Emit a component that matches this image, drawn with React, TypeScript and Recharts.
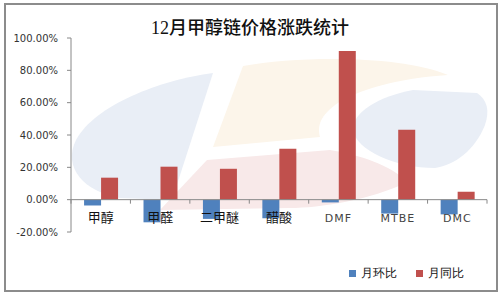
import React from 'react';
import { BarChart, Bar, XAxis, YAxis, ReferenceLine, Legend } from 'recharts';

const categories = ['甲醇', '甲醛', '二甲醚', '醋酸', 'DMF', 'MTBE', 'DMC'];
const momValues = [-3.6, -14.0, -11.9, -11.5, -1.7, -8.6, -9.1];
const yoyValues = [13.6, 20.4, 19.1, 31.5, 92.0, 43.2, 4.9];
const yTicks = [-20, 0, 20, 40, 60, 80, 100];
const seriesKeys = ['mom', 'yoy'];
const seriesNames = ['月环比', '月同比'];

const W = 504;
const H = 298;
const M = { top: 38, right: 17, bottom: 36, left: 0 };
const X_AXIS_H = 30;
const Y_MIN = -20;
const Y_MAX = 100;

// zero line position, derived from the plot box
const plotBottom = H - M.bottom - X_AXIS_H;
const plotHeight = plotBottom - M.top;
const zeroY = plotBottom - (plotHeight * (0 - Y_MIN)) / (Y_MAX - Y_MIN);
const bandW = (W - M.right - M.left - 71) / categories.length;

const data = categories.map((name, i) => ({
  name,
  mom: momValues[i],
  yoy: yoyValues[i],
}));

const CategoryTick = ({ x, payload, index }: any) => {
  const latin = /^[A-Za-z]+$/.test(payload.value);
  return (
    <g>
      <line x1={x - bandW / 2} x2={x - bandW / 2} y1={zeroY} y2={zeroY + 4} stroke="#888" />
      {index === categories.length - 1 && (
        <line x1={x + bandW / 2} x2={x + bandW / 2} y1={zeroY} y2={zeroY + 4} stroke="#888" />
      )}
      <text
        x={x}
        y={zeroY + 22}
        textAnchor="middle"
        fill={latin ? '#444' : '#111'}
        fontSize={latin ? 11 : 13}
        letterSpacing={latin ? 1 : 0}
        fontFamily="'DejaVu Sans', 'Noto Sans CJK SC', sans-serif"
      >
        {payload.value}
      </text>
    </g>
  );
};

// keep legend in series order (recharts sorts by name otherwise)
const LegendContent = ({ payload }: any) => {
  const items = [...(payload || [])].sort(
    (a: any, b: any) => seriesNames.indexOf(a.value) - seriesNames.indexOf(b.value)
  );
  return (
    <div style={{ display: 'flex', gap: 19, fontSize: 12, color: '#111' }}>
      {items.map((p: any) => (
        <div key={p.value} style={{ display: 'flex', alignItems: 'center' }}>
          <span style={{ width: 7, height: 7, background: p.color, marginRight: 5, display: 'inline-block' }} />
          <span>{p.value}</span>
        </div>
      ))}
    </div>
  );
};

const Watermark = () => (
  <svg width={W} height={H} style={{ position: 'absolute', left: 0, top: 0 }}>
    <path d="M213,73 C160,80 95,105 76,140 C62,168 85,192 120,198 L172,200 Z" fill="#E9EEF6" />
    <path d="M413,90 L477,93 C487,100 490,110 485,125 C475,150 455,165 435,168 C395,168 356,150 353,130 C352,112 380,96 413,90 Z" fill="#E9EEF6" />
    <path d="M243,66 C300,56 400,55 448,75 C400,78 355,90 335,105 C318,118 318,128 320,137 L213,147 Z" fill="#FCF5EA" />
    <path d="M207,160 L330,150 C360,155 390,165 408,182 C370,200 320,208 290,208 L160,210 Z" fill="#F8E9E9" />
  </svg>
);

export default function App() {
  return (
    <div style={{ position: 'absolute', left: 0, top: 0, width: W, height: H, background: '#fff' }}>
      <Watermark />
      <div
        style={{
          position: 'absolute',
          left: 4,
          top: 3,
          width: 494,
          height: 289,
          boxSizing: 'border-box',
          border: '2px solid #8c8c8c',
        }}
      />
      <div
        style={{
          position: 'absolute',
          left: 0,
          top: 13,
          width: 500,
          textAlign: 'center',
          fontFamily: "'Liberation Serif', 'Noto Sans CJK SC', serif",
          fontSize: 18,
          fontWeight: 500,
          color: '#111',
        }}
      >
        12月甲醇链价格涨跌统计
      </div>
      <div style={{ position: 'absolute', left: 0, top: 0 }}>
        <BarChart
          width={W}
          height={H}
          data={data}
          margin={M}
          barCategoryGap="22%"
          barGap={0}
        >
          <YAxis
            width={71}
            domain={[Y_MIN, Y_MAX]}
            ticks={yTicks}
            interval={0}
            tickFormatter={(v: number) => `${v.toFixed(2)}%`}
            axisLine={{ stroke: '#888' }}
            tickLine={{ stroke: '#888' }}
            tickSize={4}
            tickMargin={9}
            tick={{ fill: '#333', fontSize: 10, fontFamily: "'DejaVu Sans', sans-serif" }}
          />
          <XAxis
            dataKey="name"
            height={X_AXIS_H}
            axisLine={false}
            tickLine={false}
            interval={0}
            tick={<CategoryTick />}
          />
          <ReferenceLine y={0} stroke="#888" />
          <Bar dataKey={seriesKeys[0]} name={seriesNames[0]} fill="#4F81BD" isAnimationActive={false} />
          <Bar dataKey={seriesKeys[1]} name={seriesNames[1]} fill="#C0504D" isAnimationActive={false} />
          <Legend
            verticalAlign="middle"
            content={<LegendContent />}
            wrapperStyle={{ position: 'absolute', left: 349, top: 265, width: 'auto', height: 'auto' }}
          />
        </BarChart>
      </div>
    </div>
  );
}
